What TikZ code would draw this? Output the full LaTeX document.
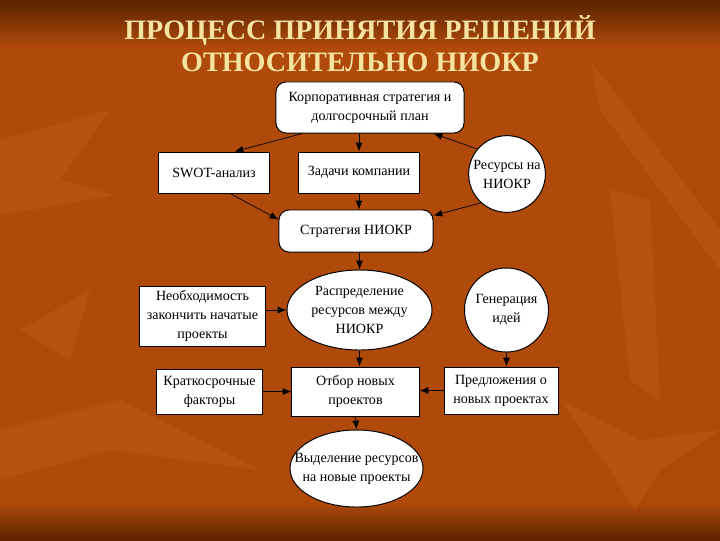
\documentclass[tikz,border=0pt]{standalone}
\usepackage{fontspec}
\setmainfont{Liberation Serif}
\usepackage{xcolor}
\usetikzlibrary{shapes.geometric, arrows.meta}
\definecolor{bgmain}{HTML}{B04A0A}
\definecolor{bgdark}{HTML}{5A2400}
\definecolor{bgbottom}{HTML}{5E2200}
\definecolor{bglight}{HTML}{DC8A2C}
\definecolor{titlecol}{HTML}{F6E3A0}

\begin{document}
\begin{tikzpicture}[
    x=0.025cm, y=-0.025cm,
    font=\fontsize{10}{13.5}\selectfont,
    box/.style={draw=black, line width=0.7pt, fill=white, align=center, inner sep=1pt},
    rbox/.style={box, rounded corners=2.5mm},
    oval/.style={box, ellipse},
    arr/.style={-{Latex[length=2.2mm,width=1.7mm]}, line width=0.5pt},
    ttl/.style={font=\fontsize{20}{23}\selectfont\bfseries, text=titlecol, anchor=base},
    leaf/.style={fill=bglight, opacity=0.13},
  ]
  % Background
  \fill[bgmain] (0,0) rectangle (720,540);
  \shade[top color=bgdark, bottom color=bgmain] (0,0) rectangle (720,48);
  \shade[top color=bgmain, bottom color=bgbottom] (0,502) rectangle (720,540);
  \fill[leaf] (590,60) -- (720,230) -- (720,270) -- (600,110) -- cycle;
  \fill[leaf] (610,190) -- (650,200) -- (660,400) -- (630,380) -- cycle;
  \fill[leaf] (560,400) -- (640,440) -- (720,430) -- (660,470) -- (635,510) -- (610,470) -- cycle;
  \fill[leaf] (0,140) -- (110,110) -- (60,180) -- (115,195) -- (0,215) -- cycle;
  \fill[leaf] (0,430) -- (120,400) -- (260,470) -- (110,450) -- (0,480) -- cycle;
  \fill[leaf] (20,330) -- (90,290) -- (70,360) -- cycle;

  % Title
  \node[ttl] (title1) at (360,39) {ПРОЦЕСС ПРИНЯТИЯ РЕШЕНИЙ};
  \node[ttl] (title2) at (360,71) {ОТНОСИТЕЛЬНО НИОКР};

  % Upper level
  \node[rbox, minimum width=4.7cm, minimum height=1.275cm] (corp) at (370,107.5)
    {Корпоративная стратегия и\\долгосрочный план};
  \node[box, minimum width=2.75cm, minimum height=1.025cm] (swot) at (214,172.5) {SWOT-анализ};
  \node[box, minimum width=3cm, minimum height=1.025cm] (zad) at (359,172.5) {Задачи компании};
  \node[box, circle, minimum size=1.85cm] (res) at (507,174) {Ресурсы на\\НИОКР};
  \node[rbox, minimum width=3.85cm, minimum height=1.05cm] (strat) at (356,231) {Стратегия НИОКР};

  % Middle level
  \node[box, minimum width=3.125cm, minimum height=1.5cm] (need) at (202.5,316)
    {Необходимость\\закончить начатые\\проекты};
  \node[oval, minimum width=3.625cm, minimum height=2cm] (distr) at (359.5,310)
    {Распределение\\ресурсов между\\НИОКР};
  \node[box, circle, minimum size=2.1cm] (gen) at (506.5,310) {Генерация\\идей};

  % Lower level
  \node[box, minimum width=2.625cm, minimum height=1.125cm] (krat) at (209.5,391.5)
    {Краткосрочные\\факторы};
  \node[box, minimum width=3.175cm, minimum height=1.225cm] (otb) at (355.5,391.5)
    {Отбор новых\\проектов};
  \node[box, minimum width=2.85cm, minimum height=1.175cm] (pred) at (501,390.5)
    {Предложения о\\новых проектах};
  \node[oval, inner xsep=-12pt, minimum width=3.325cm, minimum height=1.925cm] (vyd) at (356.5,468.5)
    {Выделение ресурсов\\на новые проекты};

  % Connections
  \draw[arr] ([xshift=0.675cm]corp.south west) -- ([xshift=-0.875cm]swot.north east);
  \draw[arr] (zad.north |- corp.south) -- (zad.north);
  \draw[arr] (res.140) -- ([xshift=-0.775cm]corp.south east);
  \draw[arr] ([xshift=0.4cm]swot.south) -- ([yshift=-0.25cm]strat.north west);
  \draw[arr] (zad.south) -- (zad.south |- strat.north);
  \draw[arr] (res.228) -- ([yshift=-0.15cm]strat.north east);
  \draw[arr] (distr.north |- strat.south) -- (distr.north);
  \draw[arr] (distr.west -| need.east) -- (distr.west);
  \draw[arr] (distr.south) -- (distr.south |- otb.north);
  \draw[arr] (gen.south) -- (gen.south |- pred.north);
  \draw[arr] (krat.east) -- (krat.east -| otb.west);
  \draw[arr] (pred.west) -- (pred.west -| otb.east);
  \draw[arr] (otb.south) -- (vyd.north);
\end{tikzpicture}
\end{document}
